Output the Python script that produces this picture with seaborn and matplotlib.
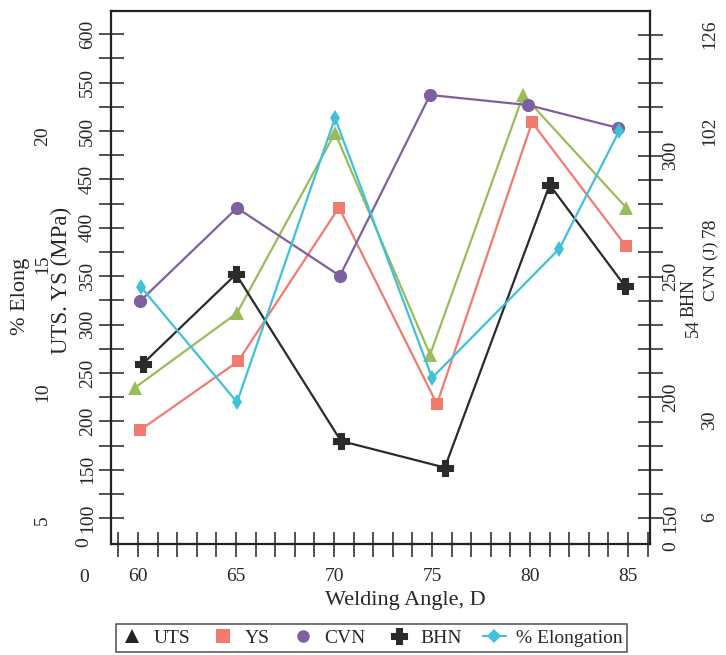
import matplotlib
matplotlib.use("Agg")
import matplotlib.pyplot as plt
import seaborn as sns
from matplotlib.lines import Line2D
from matplotlib.ticker import FixedLocator, FuncFormatter, MultipleLocator

# ---------------- data ----------------
uts_angle = [59.85, 65.05, 70.05, 74.9, 79.65, 84.9]
uts_mpa = [235, 312, 498, 269, 537, 421]

ys_angle = [60.1, 65.1, 70.25, 75.25, 80.1, 84.9]
ys_mpa = [191, 262, 421, 218, 509, 381]

cvn_angle = [60.1, 65.05, 70.3, 74.9, 79.9, 84.5]
cvn_j = [59.7, 82.9, 66.0, 111.0, 108.5, 102.8]

bhn_angle = [60.25, 65.0, 70.35, 75.65, 81.0, 84.85]
bhn_val = [214, 251, 182, 171, 288, 246]

elong_angle = [60.15, 65.05, 70.05, 75.0, 81.5, 84.55]
elong_pct = [14.1, 9.6, 20.7, 10.55, 15.6, 20.2]

x_major = [60, 65, 70, 75, 80, 85]
mpa_labels = [100, 150, 200, 250, 300, 350, 400, 450, 500, 550, 600]
bhn_labels = [150, 200, 250, 300]
cvn_labels = [6, 30, 54, 78, 102, 126]
elong_labels = [5, 10, 15, 20]

legend_names = ["UTS", "YS", "CVN", "BHN", "% Elongation"]

# ---------------- style ----------------
sns.set_style("white")
plt.rcParams["font.family"] = ["Liberation Serif", "DejaVu Serif"]

C_UTS = "#9BBB59"
C_YS = "#F27B70"
C_CVN = "#7D60A0"
C_BHN = "#2B2B2B"
C_EL = "#3FC1D9"
AX_C = "#222222"

W, H = 726, 655
fig = plt.figure(figsize=(W / 100, H / 100), dpi=100)
fig.patch.set_facecolor("white")


def fx(px):
    return px / W


def fy(py):
    return 1 - py / H


L, R, T, B = 111, 650, 11, 544.3
ax = fig.add_axes([fx(L), fy(B), (R - L) / W, (B - T) / H])
ax_cvn = ax.twinx()
ax_bhn = ax.twinx()
ax_el = ax.twinx()

# ---------------- main axis (UTS / YS, MPa) ----------------
sns.lineplot(x=uts_angle, y=uts_mpa, ax=ax, color=C_UTS, marker="^", markersize=10,
             markeredgewidth=0, linewidth=1.6, estimator=None, sort=False, legend=False)
sns.lineplot(x=ys_angle, y=ys_mpa, ax=ax, color=C_YS, marker="s", markersize=8.5,
             markeredgewidth=0, linewidth=1.6, estimator=None, sort=False, legend=False)
ax.set_xlim(58.62, 86.12)
ax.set_ylim(73.1, 624.0)
ax.xaxis.set_major_locator(FixedLocator(x_major))
ax.xaxis.set_minor_locator(MultipleLocator(1))
ax.set_yticks([v for v in range(100, 601, 25)])
ax.yaxis.set_major_formatter(FuncFormatter(lambda v, p: f"{int(v)}" if int(v) in mpa_labels else ""))
ax.tick_params(axis="x", which="both", direction="inout", length=18, width=1.1,
               color=AX_C, labelsize=14, pad=8, top=False, bottom=True)
ax.tick_params(axis="y", which="both", direction="inout", length=18, width=1.1,
               color=AX_C, labelsize=14, pad=2, left=True, right=False, labelrotation=90)
for s in ax.spines.values():
    s.set_visible(True)
    s.set_color(AX_C)
    s.set_linewidth(1.6)
ax.set_xlabel("")
ax.set_ylabel("")
ax.set_facecolor("white")

# ---------------- CVN axis ----------------
sns.lineplot(x=cvn_angle, y=cvn_j, ax=ax_cvn, color=C_CVN, marker="o", markersize=9.5,
             markeredgewidth=0, linewidth=1.6, estimator=None, sort=False, legend=False)
ax_cvn.set_ylim(-0.79, 131.9)
ax_cvn.set_yticks(cvn_labels)
ax_cvn.yaxis.set_major_formatter(FuncFormatter(lambda v, p: "" if int(round(v)) == 54 else f"{int(round(v))}"))
ax_cvn.tick_params(axis="y", length=0, pad=37, labelsize=14, labelrotation=90)

# ---------------- BHN axis ----------------
sns.lineplot(x=bhn_angle, y=bhn_val, ax=ax_bhn, color=C_BHN, marker="P", markersize=9.5,
             markeredgewidth=2.2, markeredgecolor=C_BHN, linewidth=1.6, estimator=None,
             sort=False, legend=False)
ax_bhn.set_ylim(139.25, 359.9)
ax_bhn.set_yticks(list(range(150, 351, 10)))
ax_bhn.yaxis.set_major_formatter(FuncFormatter(lambda v, p: f"{int(round(v))}" if int(round(v)) in bhn_labels else ""))
ax_bhn.tick_params(axis="y", direction="inout", length=18, width=1.1, color=AX_C,
                   pad=0, labelsize=14, labelrotation=90)

# ---------------- Elongation axis ----------------
sns.lineplot(x=elong_angle, y=elong_pct, ax=ax_el, color=C_EL, marker="d", markersize=8,
             markeredgewidth=0, linewidth=1.6, estimator=None, sort=False, legend=False)
ax_el.set_ylim(4.05, 24.88)
ax_el.set_yticks(elong_labels)
ax_el.yaxis.tick_left()
ax_el.tick_params(axis="y", left=True, right=False, length=0, pad=43, labelsize=14, labelrotation=90)

for a in (ax_cvn, ax_bhn, ax_el):
    for s in a.spines.values():
        s.set_visible(False)
    a.set_ylabel("")
    a.set_xlabel("")

for a in (ax, ax_cvn, ax_bhn, ax_el):
    for lab in a.get_yticklabels():
        lab.set_va("center")

# ---------------- texts ----------------
fig.text(fx(21), fy(296), "% Elong", rotation=90, ha="center", va="center", fontsize=16)
fig.text(fx(61), fy(280), "UTS. YS (MPa)", rotation=90, ha="center", va="center", fontsize=16.5)
fig.text(fx(405), fy(600), "Welding Angle, D", ha="center", va="center", fontsize=16)
fig.text(fx(84), fy(542), "0", rotation=90, ha="center", va="center", fontsize=14)
fig.text(fx(84), fy(577), "0", ha="center", va="center", fontsize=14)
fig.text(fx(671), fy(546), "0", rotation=90, ha="center", va="center", fontsize=14)
fig.text(fx(689), fy(298), "BHN", rotation=90, ha="center", va="center", fontsize=13)
fig.text(fx(693), fy(328), "54", rotation=90, ha="center", va="center", fontsize=13)
fig.text(fx(711), fy(271), "CVN (J)", rotation=90, ha="center", va="center", fontsize=12.5)

# ---------------- legend ----------------
handles = [
    Line2D([], [], linestyle="none", marker="^", markersize=10, color="#222222", markeredgewidth=0),
    Line2D([], [], linestyle="none", marker="s", markersize=10, color=C_YS, markeredgewidth=0),
    Line2D([], [], linestyle="none", marker="o", markersize=9, color=C_CVN, markeredgewidth=0),
    Line2D([], [], linestyle="none", marker="P", markersize=10, color=C_BHN,
           markeredgewidth=2.2, markeredgecolor=C_BHN),
    Line2D([], [], linestyle="-", linewidth=1.6, marker="D", markersize=7, color=C_EL, markeredgewidth=0),
]
leg = fig.legend(handles, legend_names, loc="center", bbox_to_anchor=(fx(371.5), fy(638)),
                 ncol=5, frameon=True, fancybox=False, edgecolor="#222222", fontsize=14,
                 handlelength=1.2, handletextpad=0.5, columnspacing=1.1, borderpad=0.25,
                 borderaxespad=0)
leg.get_frame().set_linewidth(1.1)

fig.savefig("out.png", dpi=100, facecolor="white")
